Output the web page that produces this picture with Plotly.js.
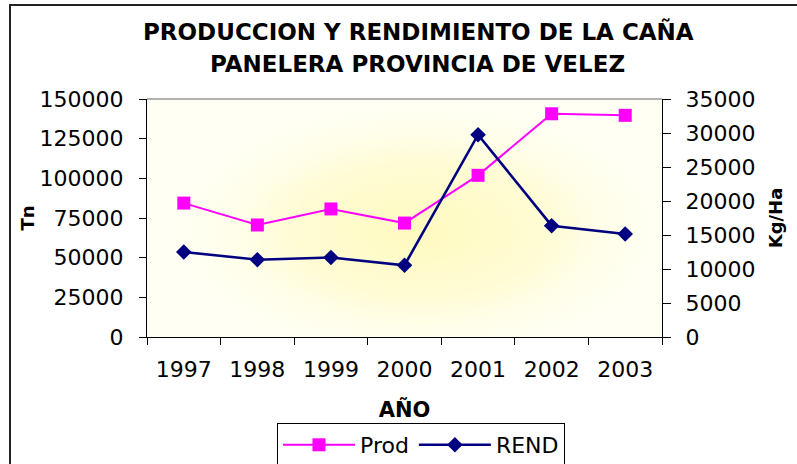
<!DOCTYPE html>
<html>
<head>
<meta charset="utf-8">
<script src="https://cdn.plot.ly/plotly-3.0.1.min.js"></script>
<style>
  html, body { margin: 0; padding: 0; background: #fff; }
  #chart { width: 797px; height: 464px; }
</style>
</head>
<body>
<div id="chart"></div>
<script>
const years = ['1997', '1998', '1999', '2000', '2001', '2002', '2003'];
const prod = [84400, 70600, 80700, 71800, 101900, 140700, 139700];
const rend = [12500, 11370, 11700, 10550, 29750, 16370, 15150];
const leftTicks = [0, 25000, 50000, 75000, 100000, 125000, 150000];
const rightTicks = [0, 5000, 10000, 15000, 20000, 25000, 30000, 35000];
const titleLines = ['PRODUCCION Y RENDIMIENTO DE LA CAÑA', 'PANELERA PROVINCIA DE VELEZ'];

const W = 797, H = 464, L = 147, R = 135, T = 99, B = 127;
const pw = W - L - R, ph = H - T - B;
function px(x) { return (x - L) / pw; }
function py(y) { return (H - B - y) / ph; }

// Radial gradient background for the plot area
function gradientImage() {
  const c = document.createElement('canvas');
  c.width = pw; c.height = ph;
  const g = c.getContext('2d');
  g.fillStyle = '#fffff4';
  g.fillRect(0, 0, c.width, c.height);
  g.save();
  g.translate(c.width * 0.53, c.height * 0.55);
  g.scale(1.9, 1);
  const rg = g.createRadialGradient(0, 0, 0, 0, 0, 140);
  rg.addColorStop(0, '#fffabf');
  rg.addColorStop(0.5, '#fffcd6');
  rg.addColorStop(1, 'rgba(255,255,244,0)');
  g.fillStyle = rg;
  g.beginPath();
  g.arc(0, 0, 145, 0, Math.PI * 2);
  g.fill();
  g.restore();
  return c.toDataURL('image/png');
}

const font = '"DejaVu Sans", Arial, sans-serif';

const traces = [
  {
    x: years, y: prod, name: 'Prod', type: 'scatter', mode: 'lines+markers',
    line: { color: '#ff00ff', width: 2 },
    marker: { symbol: 'square', size: 13, color: '#ff00ff' },
    yaxis: 'y'
  },
  {
    x: years, y: rend, name: 'REND', type: 'scatter', mode: 'lines+markers',
    line: { color: '#000080', width: 2.6 },
    marker: { symbol: 'diamond', size: 12, color: '#000080' },
    yaxis: 'y2'
  }
];

const layout = {
  width: W, height: H,
  margin: { l: L, r: R, t: T, b: B, pad: 0, autoexpand: false },
  paper_bgcolor: '#ffffff',
  plot_bgcolor: 'rgba(0,0,0,0)',
  font: { family: font, color: '#000', size: 22 },
  showlegend: true,
  legend: {
    orientation: 'h', x: px(421), xanchor: 'center', y: py(423), yanchor: 'top',
    bordercolor: '#000', borderwidth: 1, bgcolor: '#fff',
    font: { family: font, size: 22, color: '#000' },
    itemwidth: 72, tracegroupgap: 0
  },
  annotations: [
    { text: '<b>' + titleLines[0] + '</b>', xref: 'paper', yref: 'paper',
      x: px(418), y: py(32), xanchor: 'center', yanchor: 'middle', showarrow: false,
      font: { family: font, size: 23, color: '#000' } },
    { text: '<b>' + titleLines[1] + '</b>', xref: 'paper', yref: 'paper',
      x: px(417), y: py(64), xanchor: 'center', yanchor: 'middle', showarrow: false,
      font: { family: font, size: 23, color: '#000' } }
  ],
  xaxis: {
    type: 'category', tickson: 'boundaries',
    showline: true, linecolor: '#000', linewidth: 1, mirror: false,
    ticks: 'outside', ticklen: 7, tickcolor: '#000',
    ticklabelstandoff: 13,
    showgrid: false, zeroline: false,
    tickfont: { family: font, size: 22, color: '#000' },
    title: { text: '<b>AÑO</b>', font: { family: font, size: 21, color: '#000' }, standoff: 20 },
    range: [-0.5, 6.5], fixedrange: true
  },
  yaxis: {
    range: [0, 150000], tickvals: leftTicks, ticktext: leftTicks.map(String),
    showline: true, linecolor: '#000', linewidth: 1,
    ticks: 'outside', ticklen: 7, tickcolor: '#000',
    ticklabelstandoff: 11,
    showgrid: false, zeroline: false,
    tickfont: { family: font, size: 22, color: '#000' },
    title: { text: '<b>Tn</b>', font: { family: font, size: 18, color: '#000' }, standoff: 0 }
  },
  yaxis2: {
    range: [0, 35000], tickvals: rightTicks, ticktext: rightTicks.map(String),
    overlaying: 'y', side: 'right',
    showline: true, linecolor: '#000', linewidth: 1,
    ticks: 'outside', ticklen: 8, tickcolor: '#000',
    ticklabelstandoff: 10,
    showgrid: false, zeroline: false,
    tickfont: { family: font, size: 22, color: '#000' },
    title: { text: '<b>Kg/Ha</b>', font: { family: font, size: 18, color: '#000' }, standoff: 14 }
  },
  images: [{
    source: gradientImage(), xref: 'paper', yref: 'paper',
    x: 0, y: 1, sizex: 1, sizey: 1, sizing: 'stretch', layer: 'below'
  }],
  shapes: [
    { type: 'line', xref: 'paper', yref: 'paper', x0: 0, x1: 1, y0: 1, y1: 1,
      line: { color: '#999', width: 1.5 } },
    { type: 'line', xref: 'paper', yref: 'paper', x0: px(9), x1: px(797), y0: py(5), y1: py(5),
      line: { color: '#222', width: 2 } },
    { type: 'line', xref: 'paper', yref: 'paper', x0: px(10), x1: px(10), y0: py(5), y1: py(470),
      line: { color: '#222', width: 2 } }
  ]
};

Plotly.newPlot('chart', traces, layout, { displayModeBar: false, staticPlot: true });
</script>
</body>
</html>
